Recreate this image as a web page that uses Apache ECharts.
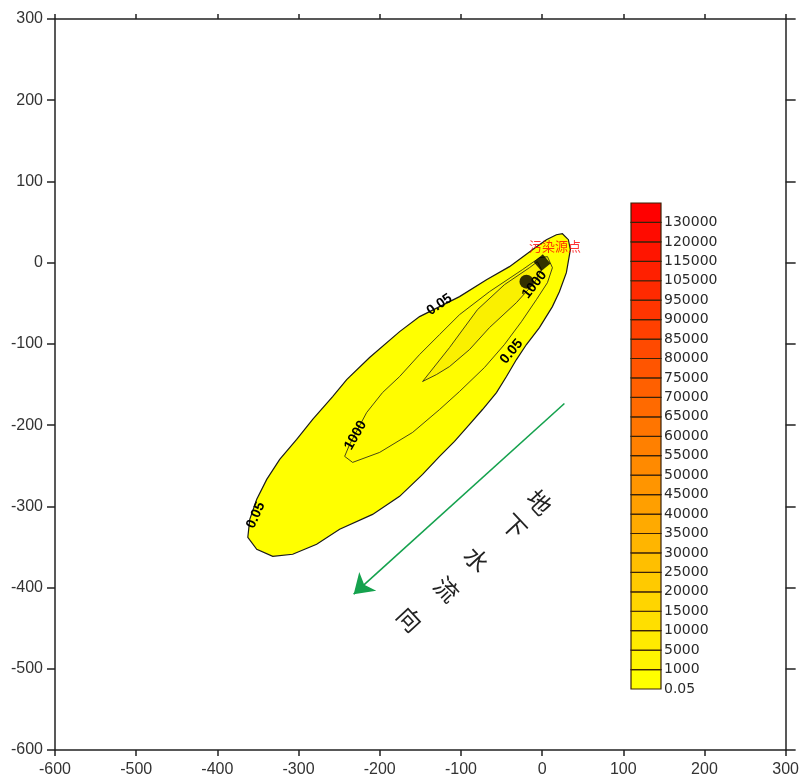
<!DOCTYPE html>
<html><head><meta charset="utf-8">
<script src="https://cdn.jsdelivr.net/npm/echarts@6/dist/echarts.min.js"></script>
<style>html,body{margin:0;padding:0;background:#fff}#c{width:802px;height:778px}</style>
</head><body><div id="c"></div>
<script>
// ---- data ----
const axisTicks = [-600, -500, -400, -300, -200, -100, 0, 100, 200, 300];

const contour005 = [[25,35.6],[32.4,28.3],[34.8,16],[29.9,-12.3],[21.3,-35.7],[12.7,-54.1],[-3.3,-79.9],[-19.3,-100.8],[-31.6,-119.3],[-43.9,-140.2],[-56.2,-159.9],[-73.4,-180.8],[-89.4,-199.2],[-107.9,-220.1],[-126.3,-238.5],[-147.2,-260.7],[-175.5,-287.7],[-208.8,-309.9],[-249.4,-328.3],[-277.7,-346.7],[-307.2,-359],[-331.8,-361.5],[-351.5,-352.9],[-362.5,-338.1],[-360.1,-316],[-351.5,-291.4],[-339.2,-266.8],[-323.2,-242.2],[-302.3,-217.6],[-282.6,-193],[-258,-164.8],[-240.7,-143.9],[-212.5,-116.8],[-175.5,-84.9],[-150.9,-66.4],[-126.3,-54.1],[-101.7,-41.8],[-68.5,-20.9],[-40.2,-4.9],[-11.9,16],[5.3,28.3],[17.6,34.4]];

const contour1000 = [[6.6,7.4],[-3.3,6.1],[-24.2,-8.6],[-64.8,-35.7],[-101.7,-64],[-126.3,-88.5],[-150.9,-113.1],[-175.5,-140.2],[-196.5,-159.9],[-216.1,-184.5],[-227.2,-205.3],[-237.1,-223.8],[-243.2,-238.5],[-233.4,-245.9],[-200.1,-233.6],[-159.5,-209],[-126.3,-180.8],[-101.7,-158.6],[-71,-129.1],[-46.4,-100.8],[-25.4,-72.6],[-7,-45.5],[6.6,-24.6],[12.7,-6.2]];

const contourCore = [[-5.8,1.2],[-15.6,-6.2],[-46.4,-27.1],[-79.6,-57.8],[-114,-104.5],[-147.2,-146.3],[-130,-137.7],[-114,-127.9],[-89.4,-107],[-64.8,-79.9],[-31.6,-49.2],[-9.4,-24.6],[-0.8,-8.6]];

const contourLabelText = ['0.05', '0.05', '0.05', '1000', '1000'];
const contourLabelPos = [[-126.3,-51.6],[-37.7,-109.4],[-352.7,-311.1],[-229.7,-212.7],[-9.4,-27.1]];

const sourcePoint = [0, 0];
const sourceName = '污染源点';
const wellPoint = [-19.3, -23.4];

const arrowStart = [27.5, -173.4];
const arrowEnd = [-232.1, -408.2];

const flowChars = ['地', '下', '水', '流', '向'];
const flowPos = [[-3.3,-295.1],[-34.1,-324.6],[-80.8,-365.2],[-117.7,-402.1],[-163.2,-439]];

const legendLevels = ['0.05','1000','5000','10000','15000','20000','25000','30000','35000','40000','45000','50000','55000','60000','65000','70000','75000','80000','85000','90000','95000','105000','115000','120000','130000'];

// ---- styles ----
const labelRot = [35, 50, 66, 60, 52];
function levelColor(i) {
  const g = Math.round(255 * (1 - i / (legendLevels.length - 1)));
  return 'rgb(255,' + g + ',0)';
}
const polys = [
  { pts: contour005, fill: '#FFFF00', lw: 1.2 },
  { pts: contour1000, fill: '#FFFC00', lw: 0.8 },
  { pts: contourCore, fill: '#FAF000', lw: 0.8 }
];

const chart = echarts.init(document.getElementById('c'), null, { renderer: 'canvas' });
const axisFont = { fontFamily: 'Liberation Sans, Arial, sans-serif', fontSize: 16, color: '#333' };
const lineCol = '#222';

function mainAxis(pos, tickLen, showLabel) {
  return {
    type: 'value', position: pos, min: axisTicks[0], max: axisTicks[axisTicks.length - 1], interval: 100,
    gridIndex: 0,
    axisLine: { show: true, onZero: false, lineStyle: { color: lineCol, width: 1.5 } },
    axisTick: { show: true, inside: false, length: tickLen, lineStyle: { color: lineCol, width: 1.5 } },
    axisLabel: Object.assign({ show: showLabel, margin: 12 }, axisFont),
    splitLine: { show: false }
  };
}

const option = {
  animation: false,
  backgroundColor: '#fff',
  grid: [
    { left: 55, top: 19, width: 731, height: 732 },
    { left: 631, top: 203, width: 30, height: 486 }
  ],
  xAxis: [
    mainAxis('bottom', 6, true),
    mainAxis('top', 5, false),
    { type: 'value', gridIndex: 1, min: 0, max: 1, show: false }
  ],
  yAxis: [
    mainAxis('left', 8, true),
    mainAxis('right', 10, false),
    {
      type: 'value', gridIndex: 1, min: 0, max: legendLevels.length, interval: 1, position: 'right',
      axisLine: { show: false }, axisTick: { show: false }, splitLine: { show: false },
      axisLabel: { show: true, margin: 3, formatter: v => (legendLevels[v] !== undefined ? legendLevels[v] : ''),
        fontFamily: '"DejaVu Sans", sans-serif', fontSize: 14, color: '#2a2a2a' }
    }
  ],
  series: [
    {
      type: 'custom', coordinateSystem: 'cartesian2d', xAxisIndex: 0, yAxisIndex: 0, silent: true, z: 1,
      clip: true,
      data: polys.map(p => p.pts[0]),
      renderItem: (params, api) => {
        const p = polys[params.dataIndex];
        return {
          type: 'polygon',
          shape: { points: p.pts.map(pt => api.coord(pt)) },
          style: { fill: p.fill, stroke: '#1a1a1a', lineWidth: p.lw }
        };
      }
    },
    {
      type: 'lines', coordinateSystem: 'cartesian2d', xAxisIndex: 0, yAxisIndex: 0, silent: true, z: 3,
      symbol: ['none', 'arrow'], symbolSize: 19,
      lineStyle: { color: '#15a24e', width: 1.6, opacity: 1, curveness: 0 },
      data: [{ coords: [arrowStart, arrowEnd] }]
    },
    {
      type: 'custom', coordinateSystem: 'cartesian2d', xAxisIndex: 0, yAxisIndex: 0, silent: true, z: 4,
      data: contourLabelPos,
      renderItem: (params, api) => {
        const c = api.coord(contourLabelPos[params.dataIndex]);
        return {
          type: 'text', x: c[0], y: c[1], rotation: labelRot[params.dataIndex] * Math.PI / 180,
          style: {
            text: contourLabelText[params.dataIndex], fill: '#000',
            font: 'bold 14px "Liberation Sans", Arial, sans-serif',
            align: 'center', verticalAlign: 'middle'
          }
        };
      }
    },
    {
      type: 'custom', coordinateSystem: 'cartesian2d', xAxisIndex: 0, yAxisIndex: 0, silent: true, z: 4,
      data: flowPos,
      renderItem: (params, api) => {
        const c = api.coord(flowPos[params.dataIndex]);
        return {
          type: 'text', x: c[0], y: c[1], rotation: -47 * Math.PI / 180,
          style: {
            text: flowChars[params.dataIndex], fill: '#222',
            font: '24px "Noto Sans CJK SC", sans-serif',
            align: 'center', verticalAlign: 'middle'
          }
        };
      }
    },
    {
      type: 'scatter', xAxisIndex: 0, yAxisIndex: 0, silent: true, z: 5,
      data: [
        {
          value: sourcePoint, symbol: 'rect', symbolSize: 12, symbolRotate: 40,
          itemStyle: { color: '#000' },
          label: {
            show: true, position: 'top', distance: 4, offset: [13, 2], formatter: sourceName,
            color: '#ff0000', fontSize: 13, fontFamily: '"Noto Sans CJK SC", sans-serif'
          }
        },
        { value: wellPoint, symbol: 'circle', symbolSize: 14, itemStyle: { color: '#000' } }
      ]
    },
    {
      type: 'custom', coordinateSystem: 'cartesian2d', xAxisIndex: 2, yAxisIndex: 2, silent: true, z: 2,
      data: legendLevels.map((l, i) => [0, i]),
      renderItem: (params, api) => {
        const i = params.dataIndex;
        const p0 = api.coord([0, i]);
        const p1 = api.coord([1, i + 1]);
        return {
          type: 'rect',
          shape: { x: p0[0], y: p1[1], width: p1[0] - p0[0], height: p0[1] - p1[1] },
          style: { fill: levelColor(i), stroke: '#3a2208', lineWidth: 1.2 }
        };
      }
    }
  ]
};
chart.setOption(option);
</script></body></html>
